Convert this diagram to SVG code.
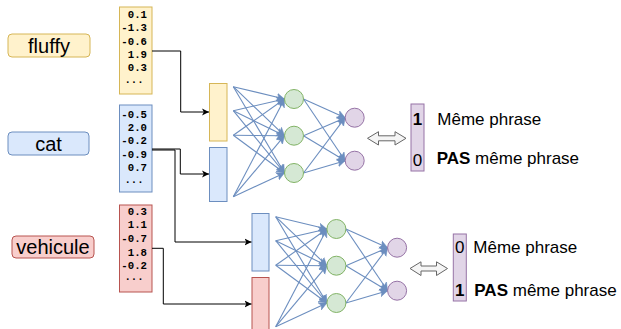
<svg xmlns="http://www.w3.org/2000/svg" width="621" height="329" viewBox="0 0 621 329">
<style>
.lbl{font-family:"Liberation Sans",Arial,sans-serif;font-size:20px;fill:#000;text-anchor:middle}
.num{font-family:"Liberation Mono","Courier New",monospace;font-size:10.7px;font-weight:bold;fill:#000;text-anchor:end}
.dots{font-family:"Liberation Mono","Courier New",monospace;font-size:10.7px;font-weight:bold;fill:#000;text-anchor:middle}
.out{font-family:"Liberation Sans",Arial,sans-serif;font-size:17px;fill:#000}
.y{fill:#fff2cc;stroke:#d6b656;stroke-width:1}
.b{fill:#dae8fc;stroke:#6c8ebf;stroke-width:1}
.r{fill:#f8cecc;stroke:#b85450;stroke-width:1}
.g{fill:#d5e8d4;stroke:#82b366;stroke-width:1}
.p{fill:#e1d5e7;stroke:#9673a6;stroke-width:1}
.e{fill:none;stroke:#6c8ebf;stroke-width:1.1;marker-end:url(#ab)}
.c{fill:none;stroke:#000;stroke-width:1;marker-end:url(#ak)}
.da{fill:#f5f5f5;stroke:#666;stroke-width:1}
</style>
<defs>
<marker id="ab" markerUnits="userSpaceOnUse" markerWidth="10" markerHeight="10" refX="8" refY="4" orient="auto" viewBox="0 0 10 8">
<path d="M0,0 L8,4 L0,8 L2,4 z" fill="#6c8ebf" stroke="#6c8ebf" stroke-width="0.5"/>
</marker>
<marker id="ak" markerUnits="userSpaceOnUse" markerWidth="8" markerHeight="8" refX="7" refY="3.5" orient="auto" viewBox="0 0 8 7">
<path d="M0,0 L7,3.5 L0,7 L1.8,3.5 z" fill="#000"/>
</marker>
</defs>

<g id="label-fluffy"><rect x="8" y="34" width="82" height="23" rx="4" class="y"/><text x="49" y="52.5" class="lbl">fluffy</text></g>
<g id="label-cat"><rect x="8" y="132" width="81" height="23" rx="4" class="b"/><text x="48.5" y="150.5" class="lbl">cat</text></g>
<g id="label-vehicule"><rect x="12" y="236" width="82" height="22" rx="4" class="r"/><text x="53" y="254" class="lbl">vehicule</text></g>

<g id="emb-fluffy"><rect x="119.5" y="7" width="32.5" height="87" class="y"/>
<text x="147" y="18" class="num">0.1</text><text x="147" y="31.3" class="num">-1.3</text><text x="147" y="44.6" class="num">-0.6</text><text x="147" y="58" class="num">1.9</text><text x="147" y="71.3" class="num">0.3</text><text x="134" y="83" class="dots">...</text></g>
<g id="emb-cat"><rect x="119.5" y="105" width="32.5" height="87" class="b"/>
<text x="147" y="117.5" class="num">-0.5</text><text x="147" y="131" class="num">2.0</text><text x="147" y="144" class="num">-0.2</text><text x="147" y="157.5" class="num">-0.9</text><text x="147" y="171" class="num">0.7</text><text x="134" y="182.5" class="dots">...</text></g>
<g id="emb-vehicule"><rect x="119.5" y="205" width="32.5" height="87" class="r"/>
<text x="147" y="214.5" class="num">0.3</text><text x="147" y="228" class="num">1.1</text><text x="147" y="241.5" class="num">-0.7</text><text x="147" y="255.5" class="num">1.8</text><text x="147" y="269" class="num">-0.2</text><text x="134" y="280" class="dots">...</text></g>

<g id="in-top-y"><rect x="209.5" y="83.5" width="17.5" height="57.5" class="y"/></g>
<g id="in-top-b"><rect x="209.5" y="147.5" width="17.5" height="54" class="b"/></g>
<g id="in-bot-b"><rect x="252" y="213.5" width="17" height="57.5" class="b"/></g>
<g id="in-bot-r"><rect x="252" y="277.5" width="17" height="60" class="r"/></g>

<g id="connectors">
<path class="c" d="M152,51 H180.7 V112 H209"/>
<path class="c" d="M152,149 H180.3 V174 H209"/>
<path class="c" d="M152,150 H175 V242 H251.5"/>
<path class="c" d="M152,248.3 H163.3 V304 H251.5"/>
<path class="e" d="M233.3,86.7 L284.5,99"/><path class="e" d="M233.3,86.7 L284.5,135.7"/><path class="e" d="M233.3,86.7 L284.5,173"/>
<path class="e" d="M233.3,110.7 L284.5,99"/><path class="e" d="M233.3,110.7 L284.5,135.7"/><path class="e" d="M233.3,110.7 L284.5,173"/>
<path class="e" d="M233.3,135.3 L284.5,99"/><path class="e" d="M233.3,135.3 L284.5,135.7"/><path class="e" d="M233.3,135.3 L284.5,173"/>
<path class="e" d="M233.3,196.7 L284.5,99"/><path class="e" d="M233.3,196.7 L284.5,135.7"/><path class="e" d="M233.3,196.7 L284.5,173"/>
<path class="e" d="M303.5,99 L345.2,117.7"/><path class="e" d="M303.5,99 L345.2,160.7"/>
<path class="e" d="M303.5,135.7 L345.2,117.7"/><path class="e" d="M303.5,135.7 L345.2,160.7"/>
<path class="e" d="M303.5,173 L345.2,117.7"/><path class="e" d="M303.5,173 L345.2,160.7"/>
<path class="e" d="M275.7,216.7 L326.9,229"/><path class="e" d="M275.7,216.7 L326.9,265.7"/><path class="e" d="M275.7,216.7 L326.9,303"/>
<path class="e" d="M275.7,240.7 L326.9,229"/><path class="e" d="M275.7,240.7 L326.9,265.7"/><path class="e" d="M275.7,240.7 L326.9,303"/>
<path class="e" d="M275.7,265.3 L326.9,229"/><path class="e" d="M275.7,265.3 L326.9,265.7"/><path class="e" d="M275.7,265.3 L326.9,303"/>
<path class="e" d="M275.7,326.7 L326.9,229"/><path class="e" d="M275.7,326.7 L326.9,265.7"/><path class="e" d="M275.7,326.7 L326.9,303"/>
<path class="e" d="M345.9,229 L387.6,247.7"/><path class="e" d="M345.9,229 L387.6,290.7"/>
<path class="e" d="M345.9,265.7 L387.6,247.7"/><path class="e" d="M345.9,265.7 L387.6,290.7"/>
<path class="e" d="M345.9,303 L387.6,247.7"/><path class="e" d="M345.9,303 L387.6,290.7"/>
</g>

<g id="h1-1"><circle cx="294" cy="99" r="9.5" class="g"/></g>
<g id="h1-2"><circle cx="294" cy="135.7" r="9.5" class="g"/></g>
<g id="h1-3"><circle cx="294" cy="173" r="9.5" class="g"/></g>
<g id="o1-1"><circle cx="354.7" cy="117.7" r="9.5" class="p"/></g>
<g id="o1-2"><circle cx="354.7" cy="160.7" r="9.5" class="p"/></g>
<g id="h2-1"><circle cx="336.4" cy="229" r="9.5" class="g"/></g>
<g id="h2-2"><circle cx="336.4" cy="265.7" r="9.5" class="g"/></g>
<g id="h2-3"><circle cx="336.4" cy="303" r="9.5" class="g"/></g>
<g id="o2-1"><circle cx="397.1" cy="247.7" r="9.5" class="p"/></g>
<g id="o2-2"><circle cx="397.1" cy="290.7" r="9.5" class="p"/></g>

<g id="darrow-top"><path class="da" d="M367.5,138.3 L378.5,131.7 L378.5,135.8 L395,135.8 L395,131.7 L406,138.3 L395,145 L395,140.8 L378.5,140.8 L378.5,145 Z"/></g>
<g id="darrow-bot"><path class="da" d="M410,268.5 L421,261.8 L421,266 L436.5,266 L436.5,261.8 L447.5,268.5 L436.5,275.5 L436.5,271 L421,271 L421,275.5 Z"/></g>

<g id="out-top"><rect x="411" y="104" width="13" height="67" class="p"/>
<text x="417.5" y="125" class="out" text-anchor="middle" font-weight="bold">1</text>
<text x="417.5" y="166" class="out" text-anchor="middle">0</text>
<text x="437.3" y="125" class="out">Même phrase</text>
<text x="436.7" y="164" class="out"><tspan font-weight="bold">PAS</tspan> même phrase</text></g>
<g id="out-bot"><rect x="453.3" y="234" width="13" height="67" class="p"/>
<text x="459.8" y="252.7" class="out" text-anchor="middle">0</text>
<text x="459.8" y="296" class="out" text-anchor="middle" font-weight="bold">1</text>
<text x="473.3" y="252.7" class="out">Même phrase</text>
<text x="474.3" y="296" class="out"><tspan font-weight="bold">PAS</tspan> même phrase</text></g>
</svg>
